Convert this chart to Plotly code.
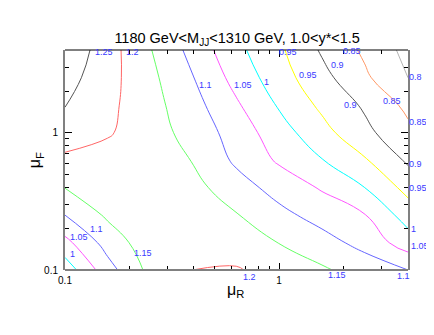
"""
Scale variation contour: sigma(mu_R, mu_F) / sigma(1, 1)
"""

import math
import plotly.graph_objects as go

# grid nodes (log spaced)
mu_r = [0.1, 0.158, 0.251, 0.398, 0.631, 1.0, 1.585, 2.512, 4.0]
mu_f = [0.1, 0.158, 0.251, 0.398, 0.631, 1.0, 1.585, 2.512, 4.0]

# ratio values, one row per mu_f (bottom -> top)
ratio = [
    [0.970, 1.080, 1.165, 1.201, 1.204, 1.181, 1.157, 1.128, 1.100],
    [1.035, 1.120, 1.180, 1.185, 1.175, 1.149, 1.119, 1.084, 1.024],
    [1.100, 1.158, 1.178, 1.172, 1.153, 1.114, 1.081, 1.052, 0.977],
    [1.151, 1.165, 1.168, 1.165, 1.122, 1.081, 1.045, 1.000, 0.934],
    [1.190, 1.180, 1.168, 1.148, 1.091, 1.043, 1.002, 0.955, 0.892],
    [1.225, 1.205, 1.172, 1.131, 1.078, 1.022, 0.967, 0.913, 0.862],
    [1.252, 1.212, 1.168, 1.117, 1.057, 0.995, 0.940, 0.893, 0.838],
    [1.270, 1.218, 1.162, 1.101, 1.033, 0.972, 0.916, 0.859, 0.800],
    [1.290, 1.222, 1.152, 1.083, 1.013, 0.959, 0.894, 0.841, 0.785],
]

levels = [0.8, 0.85, 0.9, 0.95, 1.0, 1.05, 1.1, 1.15, 1.2, 1.25]
level_colors = ['#b4b4b4', '#ff9966', '#555555', '#ffff00', '#00ffff',
                '#ff55ff', '#6666ff', '#66ff66', '#ff6666', '#555555']

# contour labels: text, mu_R, mu_F
labels = [
    ('1.25', 0.135, 3.86), ('1.2', 0.188, 3.86), ('1.1', 0.412, 2.22),
    ('1.05', 0.600, 2.22), ('1', 0.836, 2.33), ('0.95', 0.982, 3.86),
    ('0.95', 1.216, 2.62), ('0.9', 1.714, 3.10), ('0.85', 1.95, 3.94),
    ('0.8', 3.96, 2.54), ('0.9', 1.97, 1.585), ('0.85', 2.99, 1.69),
    ('0.85', 3.96, 1.19), ('0.9', 3.96, 0.596), ('0.95', 3.96, 0.398),
    ('1', 4.06, 0.2), ('1.05', 4.06, 0.15),
    ('1.2', 0.667, 0.089), ('1.15', 1.66, 0.092), ('1.1', 3.48, 0.0904),
    ('1.1', 0.128, 0.2), ('1.05', 0.103, 0.174), ('1', 0.103, 0.131),
    ('1.15', 0.205, 0.133),
]

FONT = 'Liberation Sans'
FRAME = '#808080'
LABEL_BLUE = '#3a3aff'
LOG_SPAN = math.log10(4) + 1  # axis runs 0.1 .. 4


def to_paper(v):
    return (math.log10(v) + 1) / LOG_SPAN


fig = go.Figure()

for lv, col in zip(levels, level_colors):
    fig.add_trace(go.Contour(
        x=mu_r,
        y=mu_f,
        z=ratio,
        contours=dict(start=lv, end=lv, size=0.05, coloring='none'),
        line=dict(color=col, width=1, smoothing=1.3),
        showscale=False,
        hoverinfo='skip'
    ))

for text, xr, yf in labels:
    fig.add_annotation(
        x=to_paper(xr), y=to_paper(yf), xref='paper', yref='paper',
        text=text, showarrow=False, xanchor='left', yanchor='middle',
        font=dict(family=FONT, size=9, color=LABEL_BLUE)
    )

# axis titles
fig.add_annotation(x=0.496, y=-0.095, xref='paper', yref='paper',
                   text='\u03bc<sub>R</sub>', showarrow=False,
                   xanchor='center', yanchor='middle',
                   font=dict(family=FONT, size=16, color='black'))
fig.add_annotation(x=-0.087, y=0.5, xref='paper', yref='paper',
                   text='\u03bc<sub>F</sub>', showarrow=False, textangle=-90,
                   xanchor='center', yanchor='middle',
                   font=dict(family=FONT, size=16, color='black'))

axis_common = dict(
    type='log',
    range=[-1, math.log10(4)],
    tickvals=[0.1, 1],
    ticktext=['0.1', '1'],
    ticks='inside',
    ticklen=7,
    tickcolor='black',
    showgrid=False,
    zeroline=False,
    mirror='allticks',
    tickfont=dict(family=FONT, size=10, color='black'),
    minor=dict(tickvals=[0.2, 0.3, 0.4, 0.5, 0.6, 0.7, 0.8, 0.9, 2, 3, 4],
               ticks='inside', ticklen=4, tickcolor='black', showgrid=False),
)

fig.update_layout(
    # the page body adds 8px, so margins are shifted to compensate
    width=434,
    height=335,
    margin=dict(l=57, r=34, t=42, b=73),
    paper_bgcolor='white',
    plot_bgcolor='white',
    showlegend=False,
    title=dict(
        text='1180 GeV&lt;M<sub>JJ</sub>&lt;1310 GeV, 1.0&lt;y*&lt;1.5',
        x=0.528, xanchor='center', y=0.91, yanchor='middle', yref='container',
        font=dict(family=FONT, size=14.5, color='black')
    ),
    xaxis=dict(axis_common, showline=False, ticklabelstandoff=3),
    yaxis=dict(axis_common, showline=True, linecolor=FRAME, linewidth=2,
               ticklabelstandoff=3),
    font=dict(family=FONT),
)

# frame: grey bottom like the sides, thin black top
fig.add_shape(type='line', xref='paper', yref='paper', x0=0, x1=1, y0=0, y1=0,
              line=dict(color=FRAME, width=2))
fig.add_shape(type='line', xref='paper', yref='paper', x0=0, x1=1, y0=1, y1=1,
              line=dict(color='black', width=1))

fig.write_html("out.html")
